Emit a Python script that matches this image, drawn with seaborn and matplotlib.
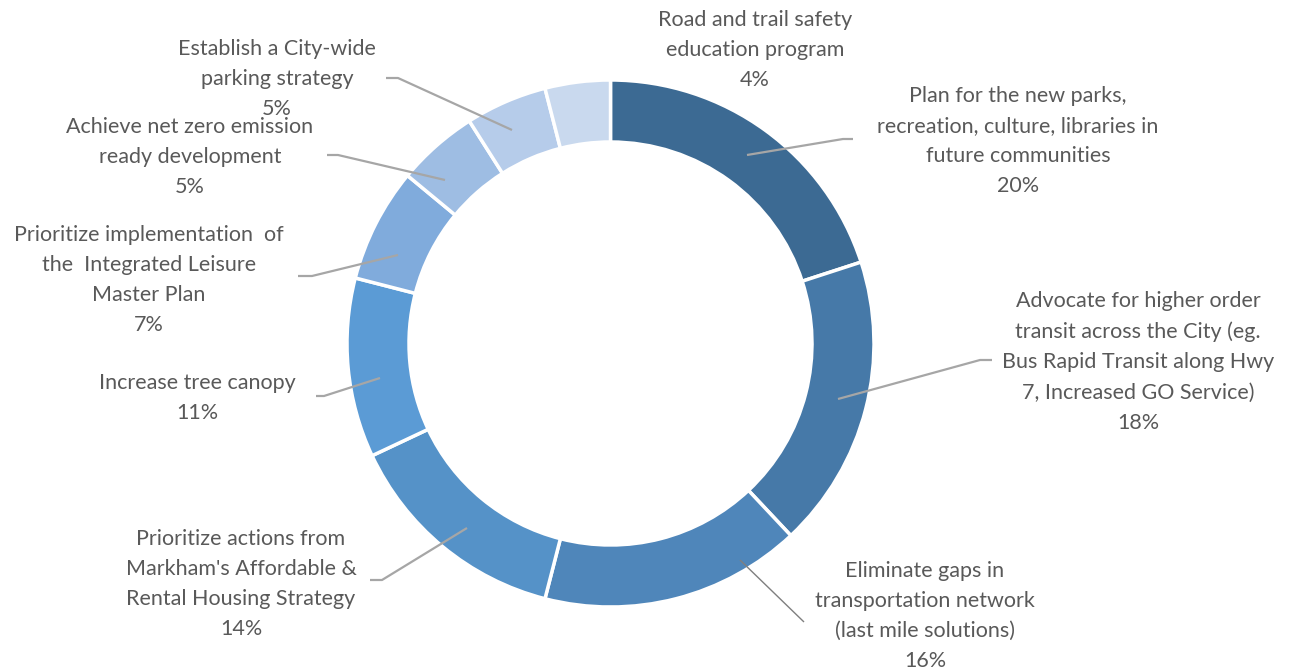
import numpy as np
import matplotlib
matplotlib.use("Agg")
import matplotlib.pyplot as plt
import seaborn as sns

# 数据
labels = [
    "Plan for the new parks,\nrecreation, culture, libraries in\nfuture communities",
    "Advocate for higher order\ntransit across the City (eg.\nBus Rapid Transit along Hwy\n7, Increased GO Service)",
    "Eliminate gaps in\ntransportation network\n(last mile solutions)",
    "Prioritize actions from\nMarkham's Affordable &\nRental Housing Strategy",
    "Increase tree canopy",
    "Prioritize implementation  of\nthe  Integrated Leisure\nMaster Plan",
    "Achieve net zero emission\nready development",
    "Establish a City-wide\nparking strategy",
    "Road and trail safety\neducation program",
]
values = [20, 18, 16, 14, 11, 7, 5, 5, 4]
colors = ["#3C6A93", "#4679A8", "#4F86BA", "#5592C8", "#5B9BD5",
          "#80ABDC", "#9EBDE3", "#B6CCEA", "#C9D9EE"]

W, H = 1293, 671

sns.set_theme(style="white")
plt.rcParams['font.family'] = ['Lato', 'DejaVu Sans']

# 标签位置 (像素坐标, 文本块中心)
label_pos = [(1018, 141), (1138, 362), (925, 616), (241, 584), (197, 398),
             (149, 280), (190, 157), (277, 79), (755, 50)]
# 引导线 (像素坐标)
leaders = [
    [(747, 155), (843, 139), (853, 139)],
    [(838, 399), (980, 360), (992, 360)],
    [(740, 560), (804, 622)],
    [(467, 528), (382, 580), (370, 580)],
    [(380, 378), (324, 396), (316, 396)],
    [(398, 255), (312, 276), (298, 276)],
    [(445, 180), (338, 155), (327, 155)],
    [(512, 130), (398, 78), (386, 78)],
    None,
]


def Y(py):
    return H - py


fig = plt.figure(figsize=(W / 100, H / 100), dpi=100)
ax = fig.add_axes([0, 0, 1, 1])

cx, cy, r = 610.5, 343.5, 263.5
ax.pie(values, colors=sns.color_palette(colors), startangle=90, counterclock=False,
       center=(cx, Y(cy)), radius=r,
       wedgeprops=dict(width=62, edgecolor="white", linewidth=2.5))

for i, (lab, v) in enumerate(zip(labels, values)):
    x, y = label_pos[i]
    ax.text(x, Y(y), f"{lab}\n{v}%", ha="center", va="center", fontsize=15.5,
            color="#595959", linespacing=1.63)
    if leaders[i] is not None:
        pts = leaders[i]
        lw = 1.0 if i == 2 else 1.6
        lc = "#7F7F7F" if i == 2 else "#A6A6A6"
        ax.plot([p[0] for p in pts], [Y(p[1]) for p in pts], color=lc, lw=lw,
                solid_capstyle="butt")

ax.set_xlim(0, W)
ax.set_ylim(0, H)
ax.set_aspect("equal")
ax.axis("off")

plt.savefig("out.png", dpi=100)
